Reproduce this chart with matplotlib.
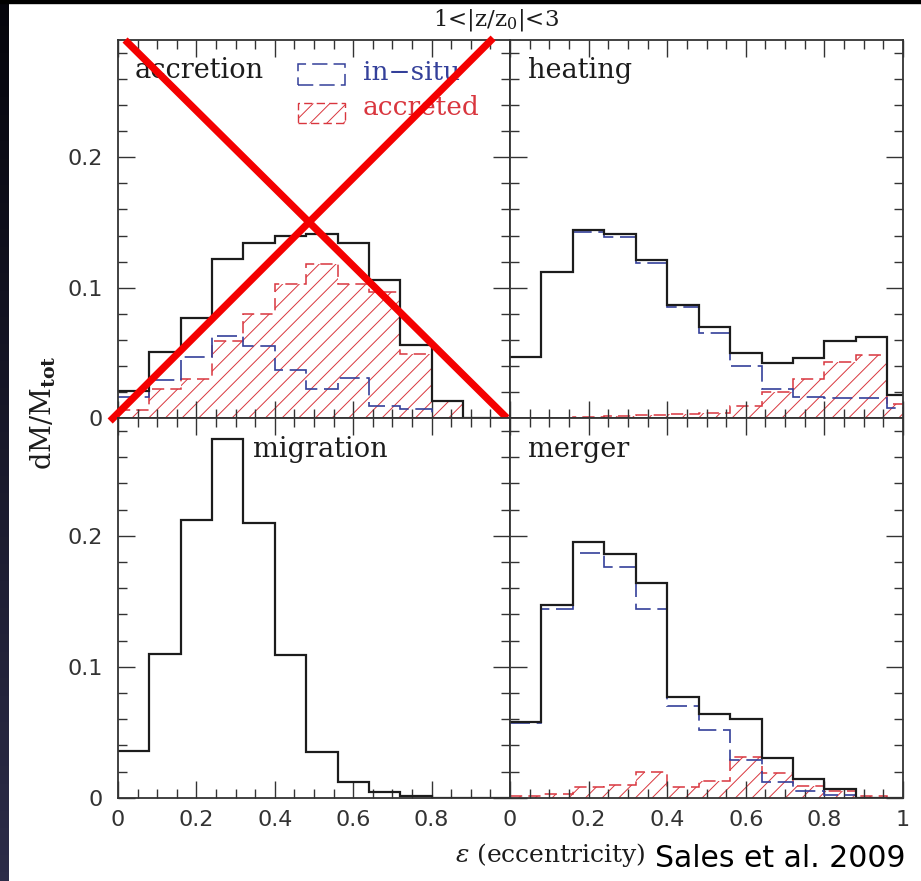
#!/usr/bin/env python
# Eccentricity distributions for 1<|z/z0|<3, four formation scenarios

import numpy as np
import matplotlib.pyplot as plt
from matplotlib.patches import Rectangle
from matplotlib.lines import Line2D
from matplotlib.ticker import MultipleLocator, FuncFormatter

plt.rcParams['mathtext.fontset'] = 'dejavuserif'
plt.rcParams['hatch.linewidth'] = 0.7

# bin edges in eccentricity (width 0.08, last bin cut by the axis)
bin_edges = [0, 0.08, 0.16, 0.24, 0.32, 0.40, 0.48, 0.56, 0.64, 0.72, 0.80, 0.88, 0.96, 1.04]

accretion_total    = [0.021, 0.051, 0.077, 0.122, 0.134, 0.140, 0.141, 0.134, 0.106, 0.056, 0.013, 0, 0]
accretion_insitu   = [0.016, 0.029, 0.047, 0.063, 0.055, 0.037, 0.022, 0.031, 0.009, 0.007, 0, 0, 0]
accretion_accreted = [0.006, 0.022, 0.030, 0.059, 0.080, 0.103, 0.118, 0.103, 0.097, 0.049, 0.013, 0, 0]

heating_total    = [0.047, 0.112, 0.144, 0.141, 0.121, 0.087, 0.070, 0.050, 0.042, 0.046, 0.059, 0.062, 0.018]
heating_insitu   = [0.047, 0.112, 0.143, 0.139, 0.119, 0.085, 0.065, 0.040, 0.022, 0.016, 0.015, 0.015, 0.008]
heating_accreted = [0, 0, 0.001, 0.0015, 0.002, 0.003, 0.004, 0.009, 0.020, 0.030, 0.043, 0.048, 0.011]

migration_total = [0.036, 0.110, 0.212, 0.274, 0.210, 0.109, 0.035, 0.012, 0.004, 0.0015, 0, 0, 0]

merger_total    = [0.058, 0.147, 0.195, 0.186, 0.164, 0.077, 0.064, 0.060, 0.030, 0.014, 0.007, 0, 0]
merger_insitu   = [0.057, 0.144, 0.187, 0.176, 0.144, 0.070, 0.052, 0.029, 0.012, 0.005, 0.002, 0, 0]
merger_accreted = [0.0015, 0.003, 0.008, 0.010, 0.020, 0.008, 0.013, 0.031, 0.019, 0.009, 0.005, 0.001, 0]

panel_names = ['accretion', 'heating', 'migration', 'merger']

BLACK = '#1c1c1c'
BLUE = '#34409a'
RED = '#d9363e'
AXC = '#333333'

fig = plt.figure(figsize=(9.21, 8.81), dpi=100, facecolor='white')

# slide background: thin black strip on top, dark navy strip on the left
strip = fig.add_axes([0, 0, 8 / 921, 1])
strip.imshow(np.linspace(0, 1, 100).reshape(-1, 1), aspect='auto',
             cmap=plt.matplotlib.colors.LinearSegmentedColormap.from_list('s', ['#05050c', '#2c2c48']))
strip.axis('off')
fig.add_artist(Rectangle((0, 878 / 881), 1, 3 / 881, transform=fig.transFigure,
                         color='black', zorder=10))

W, H = 921, 881
lefts = [118 / W, 510 / W]
widths = [392 / W, 393 / W]
bottoms = [(H - 418) / H, (H - 797.7) / H]
heights = [378 / H, 379.7 / H]

axes = {}
for i, name in enumerate(panel_names):
    r, c = divmod(i, 2)
    axes[name] = fig.add_axes([lefts[c], bottoms[r], widths[c], heights[r]])


def draw_hist(ax, total, insitu=None, accreted=None):
    if accreted is not None:
        ax.stairs(accreted, bin_edges, fill=True, hatch='//', facecolor='none',
                  edgecolor=RED, linewidth=0, zorder=1)
        ax.stairs(accreted, bin_edges, baseline=None, color=RED, linewidth=1.1,
                  linestyle=(0, (8, 4)), zorder=1.5)
    if insitu is not None:
        ax.stairs(insitu, bin_edges, baseline=None, color=BLUE, linewidth=1.2,
                  linestyle=(0, (12, 4)), zorder=1.6)
    ax.stairs(total, bin_edges, baseline=None, color=BLACK, linewidth=1.6, zorder=1.8)


def lab(v, pos):
    if abs(v) < 1e-9:
        return '0'
    return f'{v:g}'


draw_hist(axes['accretion'], accretion_total, accretion_insitu, accretion_accreted)
draw_hist(axes['heating'], heating_total, heating_insitu, heating_accreted)
draw_hist(axes['migration'], migration_total)
draw_hist(axes['merger'], merger_total, merger_insitu, merger_accreted)

for i, name in enumerate(panel_names):
    ax = axes[name]
    r, c = divmod(i, 2)
    ax.set_xlim(0, 1)
    ax.set_ylim(0, 0.29)
    ax.xaxis.set_major_locator(MultipleLocator(0.2))
    ax.xaxis.set_minor_locator(MultipleLocator(0.05))
    ax.yaxis.set_major_locator(MultipleLocator(0.1))
    ax.yaxis.set_minor_locator(MultipleLocator(0.02))
    ax.tick_params(which='both', direction='in', top=True, right=True,
                   colors=AXC, width=1.0, labelsize=16, labelcolor='#333333')
    ax.tick_params(which='major', length=12)
    ax.tick_params(which='minor', length=6.5)
    ax.tick_params(axis='y', pad=11)
    ax.tick_params(axis='x', pad=9)
    for sp in ax.spines.values():
        sp.set_color(AXC)
        sp.set_linewidth(1.3)
        sp.set_zorder(3)
    ax.yaxis.set_major_formatter(FuncFormatter(lab))
    if c == 0 and r == 1:
        ax.xaxis.set_major_formatter(FuncFormatter(lambda v, p: '' if v > 0.99 else lab(v, p)))
    else:
        ax.xaxis.set_major_formatter(FuncFormatter(lab))
    if r == 0:
        ax.tick_params(labelbottom=False)
    if c == 1:
        ax.tick_params(labelleft=False)

# panel names
LBL = dict(family='DejaVu Serif', fontsize=19.5, color=BLACK, va='baseline')
axes['accretion'].text(0.043, 0.899, 'accretion', transform=axes['accretion'].transAxes, **LBL)
axes['heating'].text(0.046, 0.899, 'heating', transform=axes['heating'].transAxes, **LBL)
axes['migration'].text(0.344, 0.898, 'migration', transform=axes['migration'].transAxes, **LBL)
axes['merger'].text(0.046, 0.898, 'merger', transform=axes['merger'].transAxes, **LBL)

# legend in the accretion panel
ax = axes['accretion']
ax.add_patch(Rectangle((0.459, 0.881), 0.12, 0.056, transform=ax.transAxes, fill=False,
                       edgecolor=BLUE, linewidth=1.1, linestyle=(0, (10, 4))))
ax.add_patch(Rectangle((0.459, 0.780), 0.12, 0.053, transform=ax.transAxes, facecolor='none',
                       edgecolor=RED, hatch='//', linewidth=1.0, linestyle=(0, (6, 3))))
ax.text(0.625, 0.913, 'in\u2212situ', transform=ax.transAxes, family='DejaVu Serif',
        fontsize=19, color=BLUE, va='center')
ax.text(0.625, 0.822, 'accreted', transform=ax.transAxes, family='DejaVu Serif',
        fontsize=19, color=RED, va='center')

# red cross drawn over the accretion panel
for (x0, y0), (x1, y1) in [((0.018, 1.0), (0.992, 0.0)), ((-0.02, -0.008), (0.957, 1.005))]:
    ax.add_line(Line2D([x0, x1], [y0, y1], transform=ax.transAxes, color='#f40000',
                       linewidth=5.2, solid_capstyle='butt', clip_on=False, zorder=20))

# titles and axis labels
fig.text(0.538, 0.9716, r'1<|z/z$_0$|<3', family='DejaVu Serif', fontsize=16.5,
         color=BLACK, ha='center', va='baseline')
fig.text(0.047, 0.532, r'dM/M$_{\mathbf{tot}}$', family='DejaVu Serif', fontsize=19.5,
         color=BLACK, rotation=90, ha='center', va='center')
fig.text(0.494, 0.0216, r'$\epsilon$ (eccentricity)', family='DejaVu Serif', fontsize=18,
         color=BLACK, ha='left', va='baseline')
fig.text(0.711, 0.0159, 'Sales et al. 2009', family='DejaVu Sans', fontsize=21.5,
         color='black', ha='left', va='baseline')

fig.savefig('out.png', dpi=100, facecolor='white')
